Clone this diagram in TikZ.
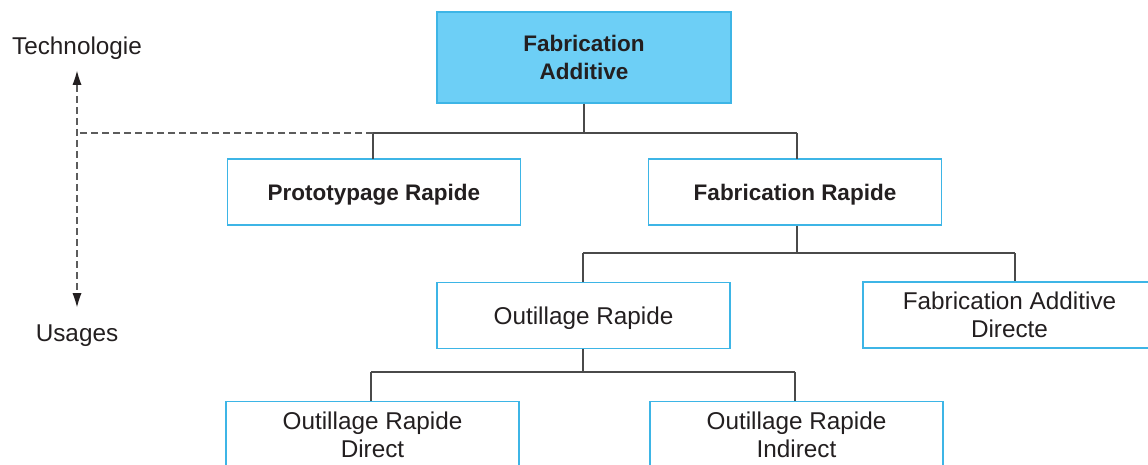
\documentclass[tikz,border=0pt]{standalone}
\usepackage{fontspec}
\setmainfont{Liberation Sans}
\usetikzlibrary{arrows.meta}
\definecolor{boxblue}{HTML}{3DB5E6}
\definecolor{boxfill}{HTML}{6DCFF6}
\definecolor{txt}{HTML}{231F20}
\definecolor{conn}{HTML}{4A4A4A}
\begin{document}
\begin{tikzpicture}[x=1pt,y=-1pt,
  box/.style={draw=boxblue,line width=1.2pt,fill=white,align=center,text=txt,
    minimum width=293pt,minimum height=66pt,inner sep=0pt,
    font=\fontsize{24.3}{28}\selectfont},
  oneline/.style={text depth=0pt},
  bbox/.style={box,font=\fontsize{22.5}{28}\selectfont\bfseries},
  lbl/.style={text=txt,inner sep=0pt,font=\fontsize{24.3}{28}\selectfont},
  link/.style={draw=conn,line width=1.3pt},
  dashline/.style={draw=conn!90,line width=1.3pt,dash pattern=on 7pt off 4pt},
  tip/.tip={Latex[length=14pt,width=9pt,line width=0pt,fill=txt,color=txt]}
]
\useasboundingbox (0,0) rectangle (1148,465);
\clip (0,0) rectangle (1148,465);
% nodes
\node[bbox,fill=boxfill,minimum width=294pt,minimum height=91pt] (fa) at (584,57.5) {Fabrication\\Additive};
\node[bbox,oneline] (pr) at (374,192) {Prototypage Rapide};
\node[bbox,oneline] (fr) at (795,192) {Fabrication Rapide};
\node[box,oneline] (or) at (583.5,315.5) {Outillage Rapide};
\node[box] (fad) at (1009.5,315) {Fabrication Additive\\Directe};
\node[box] (ord) at (372.5,434.5) {Outillage Rapide\\Direct};
\node[box] (ori) at (796.5,434.5) {Outillage Rapide\\Indirect};
\node[lbl] (tech) at (77,48.5) {Technologie};
\node[lbl] (usa) at (77,336) {Usages};
% junctions
\coordinate (j1) at (584,133);
\coordinate (j2) at (797,253);
\coordinate (j3) at (583,372);
\coordinate (ax) at (77,133);
\coordinate (atop) at (77,71);
\coordinate (abot) at (77,307);
% connectors
\draw[link] (fa.south) -- (j1);
\draw[link] (373,133) -- (797,133);
\draw[link] (373,133) -- (373,159);
\draw[link] (797,133) -- (797,159);
\draw[link] (fr.south -| j2) -- (j2);
\draw[link] (583,253) -- (1015,253);
\draw[link] (583,253) -- (or.north -| j3);
\draw[link] (1015,253) -- (1015,281);
\draw[link] (or.south -| j3) -- (j3);
\draw[link] (371,372) -- (795,372);
\draw[link] (371,372) -- (371,401);
\draw[link] (795,372) -- (795,401);
% dashed axis
\draw[dashline] (373,133) -- (ax);
\draw[dashline,tip-tip] (atop) -- (abot);
\end{tikzpicture}
\end{document}
